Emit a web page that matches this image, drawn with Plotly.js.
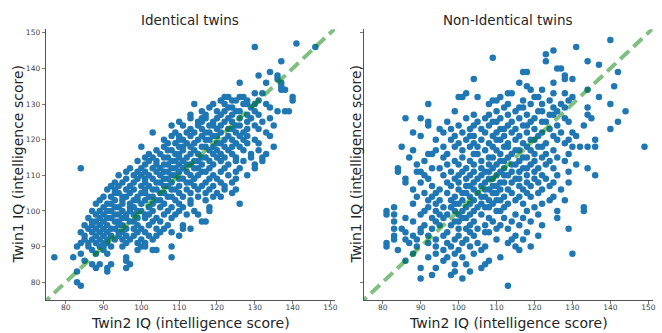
<!DOCTYPE html>
<html><head><meta charset="utf-8">
<script src="https://cdn.plot.ly/plotly-3.0.1.min.js"></script>
<style>html,body{margin:0;padding:0;background:#fff}#chart{width:662px;height:333px}</style>
</head><body><div id="chart"></div>
<script>
const panelTitles = ["Identical twins", "Non-Identical twins"];
const xAxisTitle = "Twin2 IQ (intelligence score)";
const yAxisTitle = "Twin1 IQ (intelligence score)";
const tickValues = [80, 90, 100, 110, 120, 130, 140, 150];
const identityLine = [70, 155];

// Each row: [Twin1 IQ, then the Twin2 IQ of every pair with that Twin1 IQ]
const identicalRows = [
  [147, 141],
  [146, 130, 146],
  [142, 137],
  [139, 134],
  [138, 131, 136],
  [137, 136],
  [136, 126, 133, 137],
  [135, 137],
  [134, 137, 138],
  [133, 130, 132],
  [132, 122, 123, 126, 127, 140],
  [131, 121, 124, 125, 128, 131, 140],
  [130, 114, 119, 122, 127, 128, 130, 133],
  [129, 118, 123, 124, 129, 134],
  [128, 116, 120, 122, 125, 126, 130, 136, 138, 139],
  [127, 113, 117, 121, 124, 128, 131],
  [126, 113, 116, 117, 120, 123, 126, 129, 134],
  [125, 110, 115, 116, 119, 122, 124, 128, 132],
  [124, 108, 111, 115, 118, 119, 121, 125, 126, 130, 135],
  [123, 113, 116, 120, 123, 124, 128, 131],
  [122, 103, 109, 112, 114, 117, 118, 121, 125, 127, 133],
  [121, 108, 110, 113, 116, 119, 120, 123, 126, 128, 134],
  [120, 106, 110, 111, 115, 117, 118, 122, 124, 127, 130],
  [119, 107, 109, 112, 114, 120, 121, 125, 128, 131],
  [118, 100, 106, 110, 111, 113, 116, 117, 119, 122, 124, 126, 135],
  [117, 104, 107, 108, 111, 114, 118, 120, 123, 127, 131],
  [116, 102, 105, 109, 110, 113, 115, 119, 121, 124, 129, 133],
  [115, 101, 103, 106, 107, 110, 112, 116, 117, 120, 122, 125, 129, 132],
  [114, 99, 102, 104, 108, 109, 111, 114, 115, 118, 121, 125, 127, 132],
  [113, 101, 104, 106, 107, 110, 112, 113, 116, 119, 123, 130],
  [112, 84, 97, 100, 103, 105, 108, 109, 111, 114, 115, 118, 122, 126, 130],
  [111, 96, 99, 101, 104, 106, 107, 110, 112, 116, 117, 121, 125],
  [110, 94, 98, 100, 102, 105, 108, 109, 113, 115, 119, 123, 128],
  [109, 96, 99, 101, 103, 106, 107, 110, 111, 114, 118, 120, 125],
  [108, 93, 95, 98, 101, 104, 105, 108, 112, 113, 117, 121, 124],
  [107, 92, 94, 97, 100, 102, 106, 107, 110, 114, 116, 119, 122],
  [106, 91, 93, 96, 98, 101, 103, 104, 108, 109, 112, 115, 118, 122, 125],
  [105, 93, 94, 97, 100, 101, 105, 106, 110, 113, 117, 120, 124],
  [104, 90, 92, 95, 96, 99, 102, 103, 107, 108, 111, 115, 119, 121],
  [103, 89, 93, 95, 98, 99, 101, 104, 105, 109, 113, 117],
  [102, 88, 91, 92, 95, 97, 100, 103, 106, 110, 113, 126],
  [101, 90, 93, 94, 97, 98, 102, 105, 108, 111, 118],
  [100, 87, 89, 91, 92, 95, 97, 99, 100, 103, 107, 110, 114, 118],
  [99, 88, 90, 93, 94, 96, 98, 101, 102, 106, 109, 112, 115],
  [98, 86, 89, 91, 92, 95, 96, 99, 101, 104, 108],
  [97, 87, 88, 90, 93, 94, 97, 98, 103, 105, 116, 117],
  [96, 85, 87, 89, 91, 94, 95, 99, 102, 107, 111],
  [95, 86, 88, 90, 92, 93, 96, 98, 100, 104, 106, 111, 113],
  [94, 84, 87, 89, 91, 94, 95, 99, 101, 105, 108],
  [93, 85, 88, 90, 92, 94, 96, 98, 102, 104, 110],
  [92, 85, 87, 89, 91, 93, 95, 97, 100, 103],
  [91, 84, 86, 88, 90, 91, 96, 99, 101],
  [90, 83, 86, 89, 90, 92, 95, 100, 101, 108],
  [89, 87, 90, 99, 103, 104],
  [88, 84, 88, 91],
  [87, 77, 82, 96, 108],
  [86, 85, 96],
  [85, 87, 89, 92, 97],
  [84, 88, 91, 96],
  [83, 83, 91],
  [80, 83],
  [79, 84]
];

const nonIdenticalRows = [
  [148, 140],
  [146, 131],
  [145, 125],
  [144, 123],
  [143, 109],
  [142, 123, 134],
  [141, 137],
  [140, 126, 127],
  [139, 117, 118, 142],
  [138, 128],
  [137, 104, 128, 130],
  [136, 116, 125],
  [135, 118, 141],
  [134, 119, 122, 134],
  [133, 102, 113, 114, 125, 128],
  [132, 100, 101, 105, 111, 120, 121, 130, 137],
  [131, 109, 110, 117, 124, 129],
  [130, 92, 108, 113, 119, 122, 127, 140],
  [129, 112, 116, 117, 125, 128, 134],
  [128, 99, 110, 115, 121, 122, 126, 144],
  [127, 104, 108, 113, 118, 124, 125, 134],
  [126, 86, 90, 102, 107, 111, 116, 120, 128, 135],
  [125, 92, 97, 105, 109, 110, 114, 119, 122, 123, 129, 142],
  [124, 92, 100, 104, 108, 113, 117, 118, 126, 133],
  [123, 95, 98, 103, 106, 111, 112, 115, 120, 124, 140],
  [122, 88, 96, 101, 107, 110, 114, 118, 122, 127, 130],
  [121, 90, 99, 103, 104, 109, 112, 116, 121, 125, 131],
  [120, 94, 98, 102, 106, 110, 111, 115, 119, 120, 126, 129, 136],
  [119, 100, 104, 108, 113, 117, 123, 128],
  [118, 85, 96, 99, 103, 105, 109, 112, 113, 118, 121, 122, 130, 132, 134, 136, 149],
  [117, 88, 94, 101, 107, 110, 115, 116, 119, 125],
  [116, 92, 93, 97, 104, 105, 111, 114, 120, 123, 129],
  [115, 87, 96, 101, 108, 109, 113, 117, 118, 122, 126],
  [114, 91, 99, 103, 106, 111, 112, 116, 120, 124, 128],
  [113, 89, 97, 100, 104, 108, 110, 114, 115, 119, 123, 131],
  [112, 84, 93, 95, 102, 106, 109, 112, 117, 118, 121, 125, 134],
  [111, 84, 89, 90, 98, 101, 104, 107, 108, 111, 114, 116, 120, 129],
  [110, 91, 96, 100, 103, 106, 110, 112, 113, 118, 122, 126, 136],
  [109, 86, 92, 99, 102, 105, 108, 109, 115, 116, 120, 123],
  [108, 86, 90, 97, 100, 104, 107, 111, 112, 114, 118, 121, 125, 129],
  [107, 93, 98, 102, 103, 106, 109, 110, 116, 119, 124],
  [106, 88, 95, 100, 104, 107, 108, 111, 113, 117, 122, 127],
  [105, 91, 94, 97, 101, 102, 105, 109, 110, 114, 118, 121],
  [104, 89, 93, 99, 103, 106, 107, 112, 116, 119, 125],
  [103, 92, 95, 98, 101, 104, 108, 110, 111, 115, 124, 128],
  [102, 88, 94, 99, 100, 103, 106, 109, 113, 117, 122],
  [101, 83, 92, 96, 98, 102, 105, 107, 108, 112, 120, 133],
  [100, 81, 91, 94, 99, 101, 104, 110, 111, 118, 126, 133],
  [99, 81, 83, 90, 95, 97, 100, 103, 106, 115, 121],
  [98, 86, 93, 96, 101, 102, 108, 112, 117, 126],
  [97, 83, 88, 94, 99, 100, 104, 109, 114, 119],
  [96, 91, 95, 98, 103, 107, 111, 116, 122],
  [95, 83, 85, 90, 93, 100, 102, 105, 110, 113, 129],
  [94, 86, 90, 97, 103, 107, 108, 118],
  [93, 83, 88, 92, 96, 100, 104, 115, 121],
  [92, 83, 86, 89, 94, 99, 102, 110, 114, 117],
  [91, 81, 87, 92, 97, 101, 105, 113],
  [90, 81, 89, 94, 98, 103, 107, 115, 119],
  [89, 84, 96, 100, 106, 116],
  [88, 88, 94, 99, 104, 130],
  [87, 92, 97, 101, 111],
  [86, 86, 96, 108],
  [85, 99, 102, 107],
  [84, 90, 94, 106],
  [83, 99, 103],
  [82, 93, 98],
  [81, 90, 101],
  [79, 113]
];

function flatten(rows) {
  const x = [], y = [];
  rows.forEach(r => { for (let i = 1; i < r.length; i++) { x.push(r[i]); y.push(r[0]); } });
  return {x, y};
}

const W = 662, H = 333;
const px = p => p / W;
const py = p => 1 - p / H;

const dotColor = '#1f77b4';
const lineStyle = {color: 'rgba(0,128,0,0.5)', width: 4, dash: '12px,6px'};
const idData = flatten(identicalRows);
const nonData = flatten(nonIdenticalRows);

const traces = [
  {x: idData.x, y: idData.y, xaxis: 'x', yaxis: 'y', type: 'scatter', mode: 'markers',
   marker: {color: dotColor, size: 6.5, line: {width: 0}}, hoverinfo: 'skip'},
  {x: identityLine, y: identityLine, xaxis: 'x', yaxis: 'y', type: 'scatter', mode: 'lines',
   line: lineStyle, hoverinfo: 'skip'},
  {x: nonData.x, y: nonData.y, xaxis: 'x2', yaxis: 'y2', type: 'scatter', mode: 'markers',
   marker: {color: dotColor, size: 6.5, line: {width: 0}}, hoverinfo: 'skip'},
  {x: identityLine, y: identityLine, xaxis: 'x2', yaxis: 'y2', type: 'scatter', mode: 'lines',
   line: lineStyle, hoverinfo: 'skip'}
];

const axisCommon = {
  showgrid: false, zeroline: false, showline: true, linecolor: '#555', linewidth: 1,
  ticks: 'outside', ticklen: 3, tickwidth: 0.8, tickcolor: '#555',
  tickvals: tickValues, tickfont: {family: 'DejaVu Sans', size: 7.5, color: '#444'},
  fixedrange: true
};
const xAxisExtra = {ticklabelstandoff: -3};

const yDomain = [py(300), py(29.2)];
const layout = {
  width: W, height: H, margin: {l: 0, r: 0, t: 0, b: 0},
  paper_bgcolor: '#fff', plot_bgcolor: '#fff', showlegend: false,
  font: {family: 'DejaVu Sans', color: '#262626'},
  xaxis: Object.assign({}, axisCommon, xAxisExtra, {domain: [px(45.7), px(335)], range: [74.72, 151.2], anchor: 'y'}),
  yaxis: Object.assign({}, axisCommon, {domain: yDomain, range: [75, 151], anchor: 'x'}),
  xaxis2: Object.assign({}, axisCommon, xAxisExtra, {domain: [px(364), px(652.7)], range: [75.07, 151.16], anchor: 'y2'}),
  yaxis2: Object.assign({}, axisCommon, {domain: yDomain, range: [75, 151], anchor: 'x2', showticklabels: false}),
  annotations: [
    {text: panelTitles[0], x: px(190.4), y: py(20), xref: 'paper', yref: 'paper', showarrow: false,
     xanchor: 'center', yanchor: 'middle', font: {size: 13.5, color: '#262626'}},
    {text: panelTitles[1], x: px(508.4), y: py(20), xref: 'paper', yref: 'paper', showarrow: false,
     xanchor: 'center', yanchor: 'middle', font: {size: 13.5, color: '#262626'}},
    {text: xAxisTitle, x: px(190.4), y: py(322.5), xref: 'paper', yref: 'paper', showarrow: false,
     xanchor: 'center', yanchor: 'middle', font: {size: 14, color: '#262626'}},
    {text: xAxisTitle, x: px(508.4), y: py(322.5), xref: 'paper', yref: 'paper', showarrow: false,
     xanchor: 'center', yanchor: 'middle', font: {size: 14, color: '#262626'}},
    {text: yAxisTitle, x: px(18), y: py(164.6), xref: 'paper', yref: 'paper', showarrow: false,
     textangle: -90, xanchor: 'center', yanchor: 'middle', font: {size: 14, color: '#262626'}},
    {text: yAxisTitle, x: px(356), y: py(164.6), xref: 'paper', yref: 'paper', showarrow: false,
     textangle: -90, xanchor: 'center', yanchor: 'middle', font: {size: 14, color: '#262626'}}
  ]
};

Plotly.newPlot('chart', traces, layout, {staticPlot: true, displayModeBar: false});
</script>
</body></html>
